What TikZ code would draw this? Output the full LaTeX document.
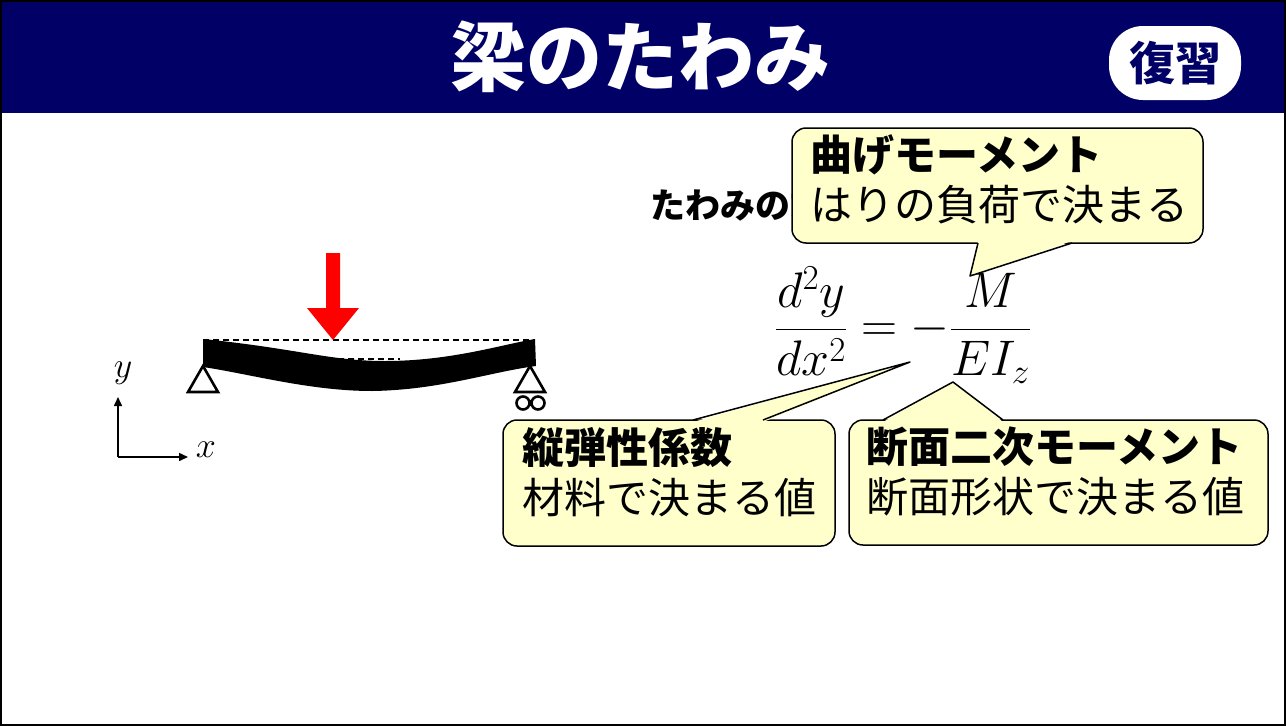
\documentclass[tikz,border=0pt]{standalone}
\usepackage{fix-cm}
\usepackage{fontspec}
\setmainfont{Noto Sans CJK JP}
\usetikzlibrary{arrows.meta}
\definecolor{navy}{HTML}{000066}
\definecolor{cyel}{HTML}{FFFFCC}
\begin{document}
\begin{tikzpicture}[x=1pt,y=-1pt,
  cbox/.style={draw=black,line width=1.5pt,fill=cyel,rounded corners=14pt},
  ctail/.style={fill=cyel},
  tline/.style={draw=black,line width=1.5pt,line join=round},
  ctext/.style={anchor=north west,align=left,font=\fontsize{42}{50}\selectfont,inner sep=0pt},
  sup/.style={draw=black,line width=2.6pt,fill=white}]
\useasboundingbox (0,0) rectangle (1286,726);
\fill[white] (0,0) rectangle (1286,726);
\fill[navy] (0,0) rectangle (1286,113);
\draw[line width=1.8pt] (0.9,0.9) rectangle (1285.1,725.1);
\node[text=white,font=\fontsize{76}{80}\selectfont\bfseries] (title) at (640,57) {梁のたわみ};
\node[fill=white,rounded corners=34pt,minimum width=132pt,minimum height=74pt,text=navy,font=\fontsize{46}{50}\selectfont\bfseries] (fuku) at (1175,63) {復習};
% beam
\draw[dashed,line width=1.8pt,dash pattern=on 6pt off 4pt] (203,340) -- (535,340);
\draw[dashed,line width=1.8pt,dash pattern=on 6pt off 4pt] (318,359) -- (400,359);
\fill[black] (203,339) .. controls (300,349) and (330,361) .. (385,361) .. controls (450,361) and (500,345) .. (535,339)
  -- (536,366) .. controls (490,372) and (440,390) .. (372,391) .. controls (310,391) and (250,374) .. (203,367) -- cycle;
\fill[red] (326,253) -- (340,253) -- (340,308) -- (359,308) -- (333,340) -- (307,308) -- (326,308) -- cycle;
\coordinate (ls) at (203,366);
\draw[sup] (ls) -- (218,392) -- (188,392) -- cycle;
\coordinate (rs) at (530,366);
\draw[sup] (rs) -- (545,392) -- (515,392) -- cycle;
\draw[line width=2.6pt] (523,403) circle (6.5) (538,403) circle (6.5);
% axes
\coordinate (o) at (118,457);
\coordinate (yt) at (118,397);
\coordinate (xt) at (188,457);
\draw[line width=1.5pt,-{Triangle[length=9pt,width=8pt]}] (o) -- (yt);
\draw[line width=1.5pt,-{Triangle[length=9pt,width=8pt]}] (o) -- (xt);
\node[font=\fontsize{36}{38}\selectfont] (ly) at (123,373) {$y$};
\node[font=\fontsize{36}{38}\selectfont] (lx) at (206,450) {$x$};
% equation
\node[anchor=west,font=\fontsize{35}{40}\selectfont\bfseries,inner sep=0pt] (hdr) at (650,205) {たわみの式};
\node[font=\fontsize{50}{56}\selectfont] (eq) at (903,325) {$\displaystyle \frac{d^2y}{dx^2}=-\frac{M}{EI_z}$};
% callouts
\draw[cbox] (792,128) rectangle (1203,243);
\fill[ctail] (978,241) -- (970,276) -- (1072,241) -- cycle;
\draw[tline] (978,243) -- (970,276) -- (1072,243);
\node[ctext] (t1) at (810,134) {\textbf{曲げモーメント}\\はりの負荷で決まる};
\draw[cbox] (503,420) rectangle (835,546);
\fill[ctail] (693,422) -- (910,362) -- (763,422) -- cycle;
\draw[tline] (693,420) -- (910,362) -- (763,420);
\node[ctext] (t2) at (522,427) {\textbf{縦弾性係数}\\材料で決まる値};
\draw[cbox] (849,420) rectangle (1268,545);
\fill[ctail] (883,422) -- (953,382) -- (1003,422) -- cycle;
\draw[tline] (883,420) -- (953,382) -- (1003,420);
\node[ctext] (t3) at (866,427) {\textbf{断面二次モーメント}\\断面形状で決まる値};
\end{tikzpicture}
\end{document}
